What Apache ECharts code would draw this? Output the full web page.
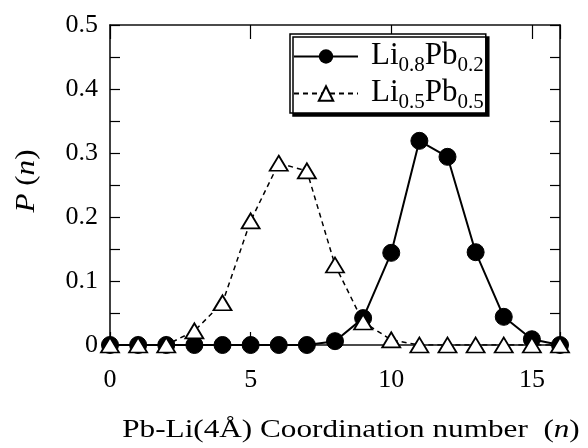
<!DOCTYPE html>
<html><head><meta charset="utf-8">
<script src="https://cdn.jsdelivr.net/npm/echarts@6/dist/echarts.min.js"></script>
<style>html,body{margin:0;padding:0;background:#fff}#c{width:588px;height:448px}</style>
</head><body><div id="c"></div>
<script>
const nValues = [0,1,2,3,4,5,6,7,8,9,10,11,12,13,14,15,16];
const li08pb02 = [0,0,0,0,0,0,0,0,0.006,0.042,0.144,0.319,0.294,0.145,0.044,0.009,0];
const li05pb05 = [0,0,0,0.022,0.066,0.194,0.284,0.272,0.125,0.036,0.008,0,0,0,0,0,0];
const seriesNames = ['Li0.8Pb0.2','Li0.5Pb0.5'];
const legendParts = {'Li0.8Pb0.2':['0.8','0.2'],'Li0.5Pb0.5':['0.5','0.5']};
const xTitle = 'Pb-Li(4Å) Coordination number  ';
const font = '"Liberation Serif","Times New Roman",serif';

const chart = echarts.init(document.getElementById('c'));
const pairs = arr => nValues.map((n,i)=>[n,arr[i]]);
const yFmt = v => { const t=Math.round(v*100); if (t%10!==0) return ''; return t===0?'0':(v).toFixed(1); };
const xFmt = v => (v%5===0 ? String(v) : '');
const lineSt = {show:true,onZero:false,lineStyle:{color:'#111',width:1.6}};
chart.setOption({
  animation:false,
  backgroundColor:'#fff',
  grid:{left:110,right:28,top:25,bottom:103,containLabel:false},
  legend:{
    data:seriesNames,
    orient:'vertical',
    left:290, top:34,
    itemWidth:64, itemHeight:18, itemGap:-2,
    padding:[3,2,0,3],
    backgroundColor:'#fff',
    borderColor:'#000', borderWidth:1.5,
    shadowColor:'#000', shadowBlur:0, shadowOffsetX:3, shadowOffsetY:3,
    formatter: name => { const p=legendParts[name]; return '{f|Li}{s|'+p[0]+'}{a|Pb}{s|'+p[1]+'}'; },
    textStyle:{
      color:'#000', fontFamily:font,
      rich:{
        f:{fontSize:31,fontFamily:font,color:'#000',lineHeight:37,padding:[0,0,2,8]},
        a:{fontSize:31,fontFamily:font,color:'#000',lineHeight:37,padding:[0,0,2,0]},
        s:{fontSize:21,fontFamily:font,color:'#000',lineHeight:21,padding:[18,0,0,0]}
      }
    }
  },
  xAxis:[
    {type:'value',min:0,max:16,interval:5,position:'bottom',axisLine:lineSt,splitLine:{show:false},
      axisTick:{show:true,inside:true,length:13,lineStyle:{color:'#000',width:1.2}},
      axisLabel:{formatter:xFmt,fontSize:26,fontFamily:font,color:'#000',margin:22}},
    {type:'value',min:0,max:16,interval:5,position:'top',axisLine:lineSt,splitLine:{show:false},
      axisTick:{show:true,inside:true,length:14,lineStyle:{color:'#000',width:1.2}},
      axisLabel:{show:false}}
  ],
  yAxis:[
    {type:'value',min:0,max:0.5,interval:0.05,position:'left',axisLine:lineSt,splitLine:{show:false},
      axisTick:{show:true,inside:true,length:10,lineStyle:{color:'#000',width:1.2}},
      axisLabel:{formatter:yFmt,fontSize:26,fontFamily:font,color:'#000',margin:12}},
    {type:'value',min:0,max:0.5,interval:0.05,position:'right',axisLine:lineSt,splitLine:{show:false},
      axisTick:{show:true,inside:true,length:10,lineStyle:{color:'#000',width:1.2}},
      axisLabel:{show:false}}
  ],
  graphic:[
    {type:'text',x:351,y:430,scaleX:1.2,style:{
      text:'{a|'+xTitle+'(}{i|n}{a|)}',
      textAlign:'center',textVerticalAlign:'middle',
      rich:{a:{fontSize:26,fontFamily:font,fill:'#000'},i:{fontSize:26,fontFamily:font,fontStyle:'italic',fill:'#000'}}
    }},
    {type:'text',rotation:Math.PI/2,x:27,y:181,scaleX:1.15,style:{
      text:'{i|P}{a| (}{i|n}{a|)}',
      textAlign:'center',textVerticalAlign:'middle',
      rich:{a:{fontSize:27,fontFamily:font,fill:'#000'},i:{fontSize:27,fontFamily:font,fontStyle:'italic',fill:'#000'}}
    }}
  ],
  series:[
    {name:seriesNames[0],type:'line',data:pairs(li08pb02),symbol:'circle',symbolSize:17,
     lineStyle:{color:'#000',width:2},itemStyle:{color:'#000',borderColor:'#000'},z:2},
    {name:seriesNames[1],type:'line',data:pairs(li05pb05),symbol:'triangle',symbolSize:[18,15],
     lineStyle:{color:'#000',width:1.5,type:[5,4]},itemStyle:{color:'#fff',borderColor:'#000',borderWidth:1.8},z:3}
  ]
});
</script></body></html>
